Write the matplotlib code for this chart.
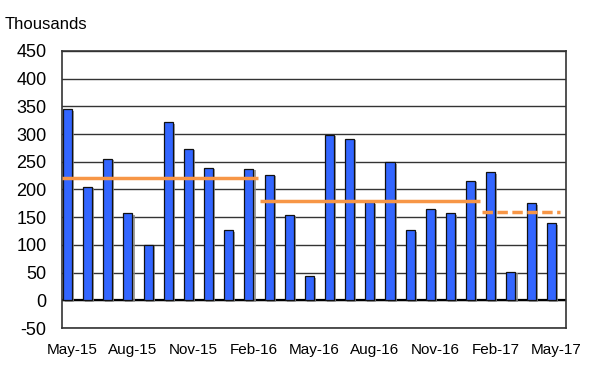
import matplotlib
matplotlib.use("Agg")
import matplotlib.pyplot as plt
import matplotlib.patheffects as pe
import numpy as np

plt.rcParams['font.family'] = ['Liberation Sans', 'DejaVu Sans']

# monthly values, thousands
months = ['May-15', 'Jun-15', 'Jul-15', 'Aug-15', 'Sep-15', 'Oct-15', 'Nov-15',
          'Dec-15', 'Jan-16', 'Feb-16', 'Mar-16', 'Apr-16', 'May-16', 'Jun-16',
          'Jul-16', 'Aug-16', 'Sep-16', 'Oct-16', 'Nov-16', 'Dec-16', 'Jan-17',
          'Feb-17', 'Mar-17', 'Apr-17', 'May-17']
values = [345, 205, 255, 157, 100, 321, 273, 239, 126, 237, 226, 154, 43, 299,
          291, 177, 249, 126, 165, 157, 216, 231, 51, 175, 139]

# period averages (first month index, last month index, value, dashed)
avg_first = [0, 10, 21]
avg_last = [9, 20, 24]
avg_values = [221, 180, 159]
avg_dashed = [False, False, True]

yticks = list(range(-50, 451, 50))

fig = plt.figure(figsize=(6.05, 3.69), dpi=100)
ax = fig.add_axes([0.1025, 0.111, 0.833, 0.751])

x = np.arange(len(values))
bw = 0.45
xmin, xmax = -0.27, len(values) - 0.27

for y in yticks:
    ax.axhline(y, color='#333333', lw=1.0, zorder=0)
ax.axhline(0, color='black', lw=1.6, zorder=1)

ax.bar(x, values, width=bw, color='#3366ff', edgecolor='#111111', lw=0.9, zorder=2,
       path_effects=[pe.SimplePatchShadow(offset=(1.5, -1), shadow_rgbFace='#888888', alpha=0.8),
                     pe.Normal()])

for f, l, v, d in zip(avg_first, avg_last, avg_values, avg_dashed):
    x0 = max(f - bw, xmin)
    x1 = min(l + bw, xmax)
    ax.plot([x0, x1], [v, v], color='#f79646', lw=2.5, zorder=3,
            ls=(0, (3, 1.3)) if d else '-', solid_capstyle='butt')

ax.set_xlim(xmin, xmax)
ax.set_ylim(-50, 450)
ax.set_yticks(yticks)
ax.set_yticklabels([str(t) for t in yticks], fontsize=13)
ax.set_xticks(x[::3] + 0.23)
ax.set_xticklabels(months[::3], fontsize=11)
ax.tick_params(length=0, pad=11)
ax.tick_params(axis='x', pad=11)
for s in ax.spines.values():
    s.set_color('#333333')
    s.set_linewidth(1.2)

fig.text(5 / 605, 1 - 29 / 369, 'Thousands', fontsize=12, ha='left', va='baseline')

fig.savefig('out.png', dpi=100)
